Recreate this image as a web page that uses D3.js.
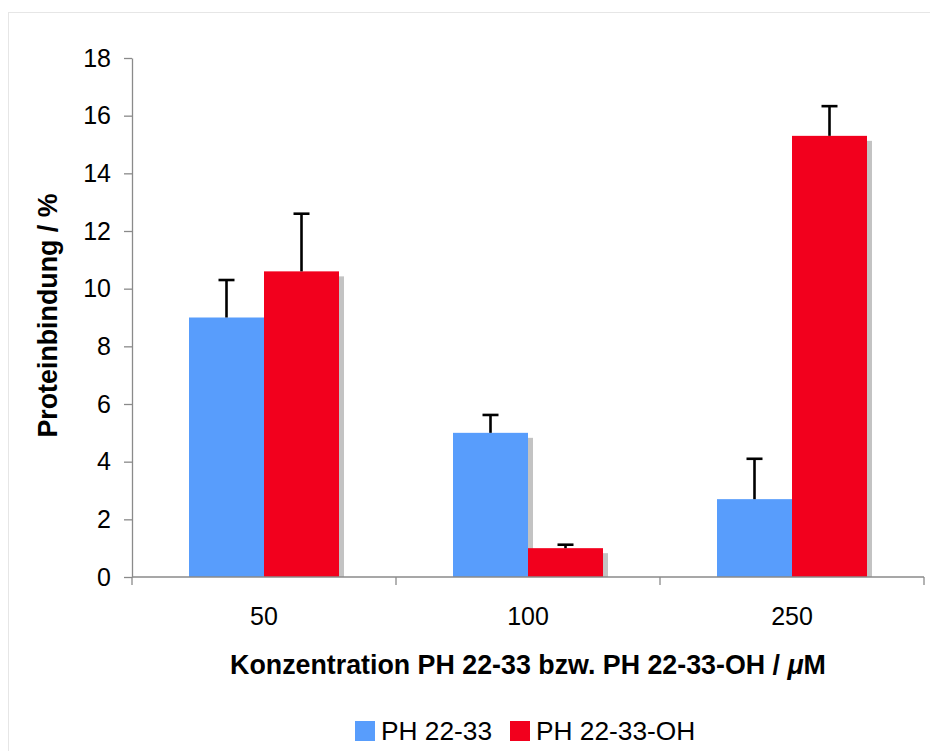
<!DOCTYPE html>
<html><head><meta charset="utf-8">
<script src="https://cdn.jsdelivr.net/npm/d3@7"></script>
<style>body{margin:0;background:#fff}svg{display:block}</style>
</head><body><svg id="c" width="930" height="751"></svg>
<script>
const categories = ["50", "100", "250"];
const seriesNames = ["PH 22-33", "PH 22-33-OH"];
const seriesA = [9.0, 5.0, 2.7];
const errorsA = [1.3, 0.62, 1.4];
const seriesB = [10.6, 1.0, 15.3];
const errorsB = [2.0, 0.12, 1.03];
const yTicks = [0, 2, 4, 6, 8, 10, 12, 14, 16, 18];
const colors = ["#589dfc", "#f2001d"];

(function () {
const svg = d3.select("#c");
const font = "Liberation Sans, Arial, Helvetica, sans-serif";
svg.append("rect").attr("x", 8.5).attr("y", 12.5).attr("width", 940).attr("height", 760)
  .attr("fill", "none").attr("stroke", "#e6e6e6");

const pL = 132, pR = 924, pT = 58, pB = 577;
const x = d3.scaleBand().domain(categories).range([pL, pR]).paddingInner(0).paddingOuter(0);
const inner = d3.scaleBand().domain(seriesNames).range([0, 150]);
const y = d3.scaleLinear().domain([0, 18]).range([pB, pT]);

const data = [];
categories.forEach((c, i) => {
  data.push({c, s: seriesNames[0], v: seriesA[i], e: errorsA[i], col: colors[0]});
  data.push({c, s: seriesNames[1], v: seriesB[i], e: errorsB[i], col: colors[1]});
});
const bx = d => x(d.c) + (x.bandwidth() - 150) / 2 + inner(d.s);

// shadows
svg.append("g").selectAll("rect").data(data).join("rect")
  .attr("x", d => bx(d) + 5).attr("y", d => y(d.v) + 5)
  .attr("width", inner.bandwidth()).attr("height", d => pB - y(d.v) - 5)
  .attr("fill", "#c3c3c3");
// bars
svg.append("g").selectAll("rect").data(data).join("rect")
  .attr("x", d => bx(d)).attr("y", d => y(d.v))
  .attr("width", inner.bandwidth()).attr("height", d => pB - y(d.v))
  .attr("fill", d => d.col);
// error bars
const eg = svg.append("g").attr("stroke", "#000").attr("stroke-width", 2.6);
data.forEach(d => {
  const cx = bx(d) + inner.bandwidth() / 2;
  eg.append("line").attr("x1", cx).attr("x2", cx).attr("y1", y(d.v)).attr("y2", y(d.v + d.e));
  eg.append("line").attr("x1", cx - 8).attr("x2", cx + 8).attr("y1", y(d.v + d.e)).attr("y2", y(d.v + d.e));
});

// y axis
const ya = svg.append("g").attr("transform", `translate(${pL},0)`)
  .call(d3.axisLeft(y).tickValues(yTicks).tickSize(8).tickSizeOuter(0).tickPadding(13));
ya.select(".domain").attr("stroke", "#8a8a8a").attr("stroke-width", 1.3);
ya.selectAll(".tick line").attr("stroke", "#8a8a8a").attr("stroke-width", 1.3);
ya.selectAll("text").attr("font-family", font).attr("font-size", 25).attr("fill", "#000");

// x axis
const xa = svg.append("g").attr("transform", `translate(0,${pB})`);
xa.append("line").attr("x1", pL).attr("x2", pR).attr("stroke", "#8a8a8a").attr("stroke-width", 1.3);
const bounds = [pL].concat(categories.map(c => x(c) + x.bandwidth()));
xa.selectAll(".tk").data(bounds).join("line").attr("class", "tk")
  .attr("x1", d => d).attr("x2", d => d).attr("y1", 0).attr("y2", 8)
  .attr("stroke", "#8a8a8a").attr("stroke-width", 1.3);
xa.selectAll("text").data(categories).join("text")
  .attr("x", d => x(d) + x.bandwidth() / 2).attr("y", 48)
  .attr("text-anchor", "middle").attr("font-family", font).attr("font-size", 25).text(d => d);

// titles
const xt = svg.append("text").attr("x", (pL + pR) / 2).attr("y", 674)
  .attr("text-anchor", "middle").attr("font-family", font).attr("font-size", 26.8).attr("font-weight", "bold");
xt.append("tspan").text("Konzentration PH 22-33 bzw. PH 22-33-OH / ");
xt.append("tspan").attr("font-style", "italic").text("μ");
xt.append("tspan").text("M");
svg.append("text").attr("transform", `translate(57,${(pT + pB) / 2 - 2}) rotate(-90)`)
  .attr("text-anchor", "middle").attr("font-family", font).attr("font-size", 26.8).attr("font-weight", "bold")
  .text("Proteinbindung / %");

// legend
const legX = [355, 510];
const lg = svg.append("g");
seriesNames.forEach((s, i) => {
  lg.append("rect").attr("x", legX[i]).attr("y", 721).attr("width", 20).attr("height", 20).attr("fill", colors[i]);
  lg.append("text").attr("x", legX[i] + 26).attr("y", 740).attr("font-family", font).attr("font-size", 26.3).text(s);
});
})();
</script></body></html>
